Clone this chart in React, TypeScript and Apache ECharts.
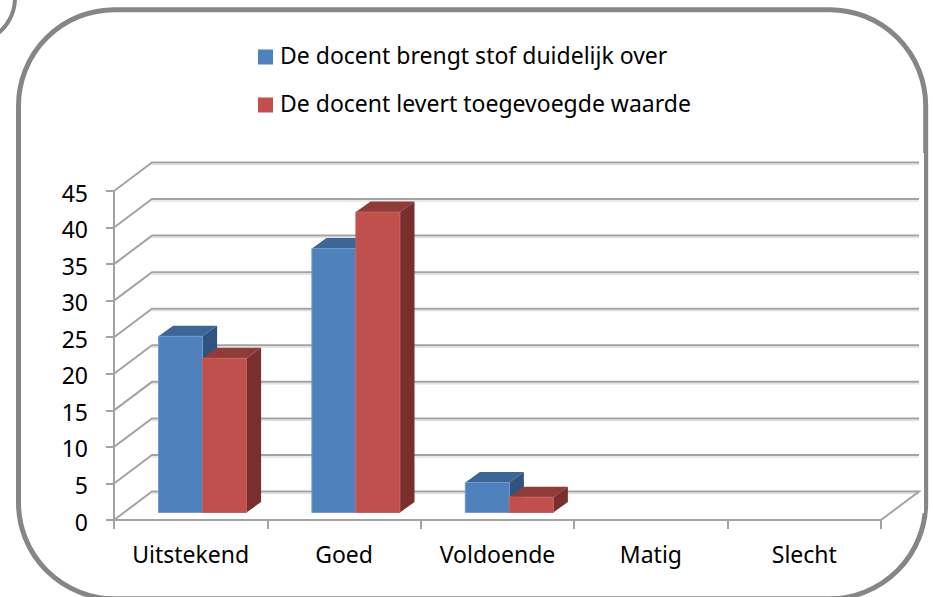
import React, { useEffect, useRef } from "react";
import * as echarts from "echarts";

const categories = ["Uitstekend", "Goed", "Voldoende", "Matig", "Slecht"];
const seriesNames = ["De docent brengt stof duidelijk over", "De docent levert toegevoegde waarde"];
const clearValues = [24, 36, 4, 0, 0];
const addedValues = [21, 41, 2, 0, 0];
const yTicks = [0, 5, 10, 15, 20, 25, 30, 35, 40, 45];

const FONT = "Noto Sans";
const FRAME = "#868686";
const GRID = "#A3A3A3";
const WALL_DX = 38;
const WALL_DY = -28.5;
const BAR_OFFSET_X = 11.8;
const BAR_OFFSET_Y = -7.5;
const BAR_TOP_LIFT = -0.7;
const BAR_DX = 14.6;
const BAR_DY = -10.5;
const BAR_W = 44;

function gridItem(params: any, api: any) {
  const cs = params.coordSys;
  const y = api.coord([0, api.value(1)])[1];
  const left = cs.x;
  const right = cs.x + cs.width;
  const pts: number[][] = [
    [left, y],
    [left + WALL_DX, y + WALL_DY],
    [right + WALL_DX, y + WALL_DY],
  ];
  if (api.value(1) === 0) pts.push([right, y]);
  const children: any[] = [
    {
      type: "polyline",
      shape: { points: [[left + WALL_DX, y + WALL_DY + 2], [right + WALL_DX, y + WALL_DY + 2]] },
      style: { stroke: "#E4E4E4", lineWidth: 1.5, fill: "none" },
    },
    { type: "polyline", shape: { points: pts }, style: { stroke: GRID, lineWidth: 2, fill: "none" } },
  ];
  return { type: "group", children };
}

function barRenderer(slot: number, front: string, top: string, side: string, edge: string) {
  return (params: any, api: any) => {
    const value = api.value(1);
    if (!value) return { type: "group", children: [] };
    const base = api.coord([api.value(0), 0]);
    const head = api.coord([api.value(0), value]);
    const x0 = base[0] + BAR_OFFSET_X + (slot - 1) * BAR_W;
    const x1 = x0 + BAR_W;
    const yb = base[1] + BAR_OFFSET_Y;
    const yt = head[1] + BAR_OFFSET_Y + BAR_TOP_LIFT;
    return {
      type: "group",
      children: [
        {
          type: "polygon",
          shape: { points: [[x0, yt], [x1, yt], [x1 + BAR_DX, yt + BAR_DY], [x0 + BAR_DX, yt + BAR_DY]] },
          style: { fill: top },
        },
        {
          type: "polygon",
          shape: { points: [[x1, yt], [x1 + BAR_DX, yt + BAR_DY], [x1 + BAR_DX, yb + BAR_DY], [x1, yb]] },
          style: { fill: side },
        },
        {
          type: "rect",
          shape: { x: x0, y: yt, width: BAR_W, height: yb - yt },
          style: { fill: front, stroke: edge, lineWidth: 1 },
        },
      ],
    };
  };
}

export default function App() {
  const ref = useRef<HTMLDivElement>(null);
  useEffect(() => {
    const chart = echarts.init(ref.current!, undefined, { renderer: "svg" });
    chart.setOption({
      animation: false,
      backgroundColor: "#FFFFFF",
      textStyle: { fontFamily: FONT },
      grid: { left: 114, right: 52, top: 191, bottom: 77 },
      legend: {
        orient: "vertical",
        left: 253,
        top: 38,
        data: seriesNames,
        icon: "path://M0 0H0V0Z M0 5H15V20H0Z",
        itemWidth: 15,
        itemHeight: 20,
        itemGap: 25,
        selectedMode: false,
        textStyle: { fontFamily: FONT, fontSize: 23, color: "#000", padding: [0, 0, 0, 2], lineHeight: 23 },
      },
      xAxis: {
        type: "category",
        data: categories,
        axisLine: { lineStyle: { color: GRID, width: 2 } },
        axisTick: { show: true, alignWithLabel: false, length: 9, lineStyle: { color: GRID, width: 2 } },
        axisLabel: { color: "#000", fontSize: 23, fontFamily: FONT, margin: 22 },
        splitLine: { show: false },
      },
      yAxis: {
        type: "value",
        min: 0,
        max: 45,
        interval: 5,
        axisLine: { show: true, lineStyle: { color: GRID, width: 2 } },
        axisTick: { show: true, length: 8, lineStyle: { color: GRID, width: 2 } },
        axisLabel: { color: "#000", fontSize: 23, fontFamily: FONT, margin: 26, verticalAlign: "top", lineHeight: 3 },
        splitLine: { show: false },
      },
      graphic: [
        {
          type: "rect",
          silent: true,
          z: -10,
          shape: { x: 18.5, y: 9.7, width: 907.2, height: 589, r: 96 },
          style: { fill: "#FFFFFF", stroke: FRAME, lineWidth: 5 },
        },
        {
          type: "circle",
          silent: true,
          z: -10,
          shape: { cx: -30, cy: -2, r: 45 },
          style: { fill: "none", stroke: FRAME, lineWidth: 4 },
        },
        {
          type: "rect",
          silent: true,
          z: -9,
          shape: { x: 921.5, y: 153, width: 2.5, height: 360 },
          style: { fill: "#FFFFFF" },
        },
      ],
      series: [
        {
          name: "walls",
          type: "custom",
          z: 1,
          renderItem: gridItem,
          data: yTicks.map((v) => [0, v]),
          silent: true,
        },
        {
          name: seriesNames[0],
          type: "custom",
          z: 2,
          itemStyle: { color: "#4F81BD" },
          renderItem: barRenderer(0, "#4F81BD", "#3D6596", "#31547F", "#6E9AD0"),
          data: clearValues.map((v, i) => [i, v]),
          silent: true,
        },
        {
          name: seriesNames[1],
          type: "custom",
          z: 3,
          itemStyle: { color: "#C0504D" },
          renderItem: barRenderer(1, "#C0504D", "#8E3B39", "#7A2F2D", "#C85F5C"),
          data: addedValues.map((v, i) => [i, v]),
          silent: true,
        },
      ],
    });
    return () => chart.dispose();
  }, []);
  return <div ref={ref} style={{ position: "fixed", left: 0, top: 0, width: 933, height: 597 }} />;
}
